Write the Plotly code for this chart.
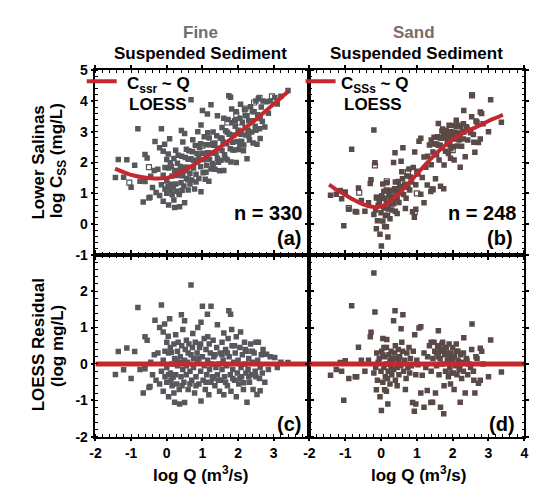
import plotly.graph_objects as go

W, H = 537, 486

# ---------------- data ----------------
# Fine suspended sediment: log Q, log Css, LOESS residual
fine_x = [-1.44, -1.36, -1.21, -1.12, -1.0, -0.9, -0.81, -0.75, -0.66, -0.61, -0.61, -0.55, -0.5, -0.47, -0.45,
          -0.4, -0.35, -0.33, -0.3, -0.25, -0.2, -0.2, -0.15, -0.15, -0.1, -0.1, -0.1, -0.06, -0.05, 0.0,
          0.0, 0.0, 0.04, 0.05, 0.05, 0.08, 0.1, 0.1, 0.13, 0.15, 0.15, 0.18, 0.2, 0.2, 0.22,
          0.22, 0.25, 0.25, 0.28, 0.3, 0.3, 0.32, 0.35, 0.36, 0.38, 0.4, 0.41, 0.42, 0.45, 0.45,
          0.48, 0.5, 0.5, 0.5, 0.52, 0.55, 0.55, 0.58, 0.6, 0.62, 0.65, 0.68, 0.68, 0.7, 0.72,
          0.73, 0.75, 0.75, 0.78, 0.8, 0.82, 0.85, 0.87, 0.87, 0.9, 0.92, 0.95, 0.96, 0.96, 1.0,
          1.0, 1.02, 1.05, 1.05, 1.08, 1.1, 1.12, 1.14, 1.15, 1.18, 1.19, 1.2, 1.22, 1.24, 1.24,
          1.26, 1.28, 1.3, 1.32, 1.35, 1.38, 1.4, 1.42, 1.42, 1.45, 1.48, 1.5, 1.52, 1.55, 1.55,
          1.58, 1.6, 1.6, 1.62, 1.65, 1.68, 1.7, 1.72, 1.74, 1.75, 1.78, 1.79, 1.8, 1.82, 1.83,
          1.85, 1.88, 1.9, 1.92, 1.95, 1.95, 1.98, 2.0, 2.02, 2.05, 2.07, 2.08, 2.1, 2.12, 2.15,
          2.16, 2.18, 2.2, 2.22, 2.25, 2.25, 2.28, 2.3, 2.32, 2.35, 2.38, 2.4, 2.42, 2.45, 2.48,
          2.5, 2.53, 2.55, 2.57, 2.6, 2.62, 2.62, 2.65, 2.68, 2.7, 2.75, 2.8, 2.85, 2.9, 3.03,
          3.1, 3.2, 3.4, 0.12, 0.28, 0.43, 0.6, 0.65, 0.82, 0.9, 1.1, 1.3, 1.45, 1.65, 1.85,
          2.05, 2.3, 2.5, 1.15, 1.7, 0.35, 0.55, 0.95, 1.35, 1.55, 1.9, 2.2, 2.4, 0.05, -0.05]
fine_css = [1.51, 2.1, 1.52, 2.09, 1.2, 1.91, 3.1, 1.39, 0.72, 1.38, 2.26, 2.15, 0.85, 0.87, 1.55,
            1.19, 1.74, 2.68, 1.03, 1.78, 2.48, 0.93, 3.1, 1.28, 2.37, 1.59, 0.74, 2.59, 1.14, 2.1,
            1.4, 1.0, 2.28, 1.82, 0.62, 2.77, 1.29, 1.99, 1.87, 0.95, 1.56, 1.21, 2.13, 0.78, 0.54,
            1.74, 1.3, 2.4, 1.07, 1.98, 1.58, 2.24, 0.96, 0.56, 1.87, 1.34, 3.04, 2.2, 1.57, 2.67,
            1.24, 1.85, 2.94, 0.69, 2.16, 1.48, 2.43, 1.85, 1.11, 2.38, 1.65, 4.04, 2.12, 1.43, 2.35,
            2.74, 1.82, 2.07, 1.14, 2.55, 1.62, 2.29, 3.0, 2.05, 1.48, 2.49, 1.86, 3.22, 1.05, 3.69,
            2.3, 1.67, 2.84, 2.09, 1.46, 2.58, 1.9, 3.58, 2.32, 1.39, 2.8, 2.11, 2.58, 3.88, 1.79,
            2.31, 1.97, 2.99, 2.56, 1.78, 2.3, 2.87, 3.52, 2.14, 2.46, 1.73, 2.8, 2.07, 3.14, 2.39,
            2.67, 1.74, 3.44, 2.25, 3.03, 2.61, 2.08, 3.4, 4.17, 2.92, 2.45, 4.12, 2.02, 3.74, 3.29,
            2.66, 2.89, 2.41, 3.18, 2.0, 3.65, 2.68, 3.05, 2.42, 3.44, 3.89, 2.92, 2.69, 3.31, 2.38,
            2.57, 3.71, 3.13, 2.89, 2.12, 3.52, 3.05, 3.36, 2.73, 3.81, 2.99, 3.36, 2.63, 3.65, 3.18,
            4.0, 2.59, 3.55, 4.07, 3.1, 3.43, 2.78, 3.8, 3.33, 4.0, 3.15, 3.97, 3.6, 4.0, 4.11,
            3.9, 4.15, 4.34, 1.09, 1.72, 1.1, 2.11, 1.3, 1.37, 2.18, 1.68, 1.94, 2.01, 2.13, 2.41,
            2.59, 2.86, 3.05, 2.97, 2.98, 1.71, 1.73, 2.61, 2.63, 2.79, 3.36, 3.53, 3.66, 1.22, 1.84]
fine_resid = [-0.29, 0.34, -0.16, 0.44, -0.4, 0.34, 1.55, -0.15, -0.8, -0.13, 0.75, 0.65, -0.65, -0.62, 0.05,
              -0.3, 0.25, 1.2, -0.45, 0.3, 1.0, -0.55, 1.62, -0.2, 0.88, 0.1, -0.75, 1.1, -0.35, 0.6,
              -0.1, -0.5, 0.76, 0.3, -0.9, 1.24, -0.25, 0.45, 0.32, -0.6, 0.0, -0.36, 0.55, -0.8, -1.05,
              0.15, -0.3, 0.8, -0.55, 0.35, -0.05, 0.6, -0.7, -1.1, 0.2, -0.35, 1.35, 0.5, -0.15, 0.95,
              -0.5, 0.1, 1.19, -1.06, 0.4, -0.3, 0.65, 0.05, -0.7, 0.55, -0.2, 2.17, 0.25, -0.45, 0.45,
              0.84, -0.1, 0.15, -0.8, 0.6, -0.35, 0.3, 1.0, 0.05, -0.55, 0.45, -0.2, 1.15, -1.02, 1.59,
              0.2, -0.45, 0.7, -0.05, -0.7, 0.4, -0.3, 1.37, 0.1, -0.85, 0.55, -0.15, 0.3, 1.59, -0.5,
              0.0, -0.35, 0.65, 0.2, -0.6, -0.1, 0.45, 1.08, -0.3, 0.0, -0.75, 0.3, -0.45, 0.6, -0.15,
              0.1, -0.85, 0.85, -0.35, 0.4, -0.05, -0.6, 0.7, 1.46, 0.2, -0.3, 1.37, -0.75, 0.95, 0.5,
              -0.15, 0.05, -0.45, 0.3, -0.9, 0.75, -0.25, 0.1, -0.55, 0.45, 0.88, -0.1, -0.35, 0.25, -0.7,
              -0.52, 0.6, 0.0, -0.25, -1.05, 0.35, -0.15, 0.15, -0.5, 0.55, -0.3, 0.05, -0.7, 0.3, -0.2,
              0.6, -0.84, 0.1, 0.6, -0.4, -0.09, -0.74, 0.25, -0.25, 0.4, -0.5, 0.27, -0.15, 0.2, 0.18,
              -0.1, 0.05, 0.04, -0.45, 0.1, -0.6, 0.3, -0.55, -0.6, 0.15, -0.5, -0.4, -0.45, -0.5, -0.4,
              -0.4, -0.35, -0.35, 0.75, 0.3, 0.05, -0.05, 0.55, 0.25, 0.25, 0.5, 0.4, 0.35, -0.3, 0.35]
fine_open_x = [-1.05, -0.5, 0.05, 0.35, 0.6, 1.0, 1.3, 1.7, 1.95, 2.05, 2.2, 2.45, 2.6, 2.95]
fine_open_css = [1.35, 1.85, 1.2, 1.05, 1.45, 2.55, 2.6, 3.3, 3.55, 3.3, 3.75, 3.95, 4.1, 4.15]
fine_loess_x = [-1.45, -1.2, -1.0, -0.75, -0.5, -0.25, 0.0, 0.25, 0.5, 0.75, 1.0, 1.25, 1.5,
                1.75, 2.0, 2.25, 2.5, 2.75, 3.0, 3.25, 3.4]
fine_loess_y = [1.80, 1.68, 1.60, 1.54, 1.50, 1.48, 1.50, 1.60, 1.75, 1.92, 2.10, 2.30, 2.50,
                2.72, 2.95, 3.17, 3.40, 3.65, 3.90, 4.15, 4.30]

# Sand suspended sediment
sand_x = [-1.41, -1.25, -1.14, -1.0, -1.04, -1.1, -0.82, -0.9, -0.72, -0.68, -0.63, -0.55, -0.45, -0.35, -0.3,
          -0.28, -0.2, -0.17, -0.13, -0.12, -0.2, -0.1, -0.05, -0.03, 0.01, 0.0, 0.02, 0.05, 0.05, 0.08,
          0.1, 0.1, 0.12, 0.15, 0.15, 0.16, 0.19, 0.2, 0.22, 0.25, 0.25, 0.28, 0.3, 0.32, 0.35,
          0.35, 0.38, 0.39, 0.4, 0.42, 0.45, 0.48, 0.5, 0.52, 0.55, 0.56, 0.6, 0.61, 0.63, 0.66,
          0.7, 0.72, 0.75, 0.78, 0.8, 0.82, 0.85, 0.88, 0.9, 0.93, 0.94, 0.97, 0.97, 1.0, 1.03,
          1.06, 1.11, 1.11, 1.15, 1.2, 1.2, 1.25, 1.29, 1.3, 1.35, 1.39, 1.4, 1.44, 1.45, 1.5,
          1.52, 1.55, 1.58, 1.6, 1.6, 1.62, 1.66, 1.68, 1.7, 1.72, 1.75, 1.76, 1.78, 1.8, 1.82,
          1.85, 1.88, 1.9, 1.92, 1.94, 1.95, 1.98, 2.0, 2.02, 2.04, 2.05, 2.08, 2.1, 2.12, 2.15,
          2.18, 2.21, 2.22, 2.25, 2.28, 2.3, 2.31, 2.35, 2.38, 2.42, 2.45, 2.5, 2.53, 2.54, 2.58,
          2.59, 2.62, 2.65, 2.68, 2.72, 2.77, 2.77, 2.81, 2.85, 3.0, 3.06, 3.36, -0.08, 0.05, 0.18,
          0.28, 0.4, 0.45, 0.58, 0.68, 0.15, -0.15, 1.48, 1.55, 1.65, 1.75, 1.85, 1.95, 2.0, 2.1,
          2.2, 2.3, 2.4, 1.7, 1.4, 1.6, 1.9, 2.15, 0.3, 0.5, 0.08]
sand_css = [0.94, 0.97, 1.09, 1.04, -0.05, 0.82, 2.43, 0.48, 0.41, 0.39, 1.17, 0.77, 0.42, 0.69, 1.32,
            1.44, 3.06, 1.99, -0.15, 0.86, 0.31, 0.11, 0.72, -0.33, -0.71, 0.37, 0.92, 0.1, 1.3, 0.52,
            -0.08, 0.83, 0.29, 1.11, 0.66, 1.34, -0.42, 0.49, 0.95, 0.17, 0.82, 1.1, 0.46, 0.83, 2.0,
            0.66, 1.15, 2.32, 0.42, 1.05, 0.84, 1.38, 0.7, 1.22, 1.01, 2.04, 1.47, 2.48, 0.96, 1.29,
            0.84, 1.56, 1.2, 1.79, 1.11, 1.53, 1.37, 0.4, 1.84, 0.22, 2.34, 0.48, 1.28, 1.72, 1.63,
            2.69, 2.79, 0.97, 1.51, 0.69, 2.18, 1.85, 1.27, 2.2, 2.57, 1.06, 1.93, 1.13, 2.34, 2.6,
            1.47, 2.25, 2.84, 3.27, 2.56, 2.08, 1.23, 2.79, 2.47, 3.09, 1.15, 1.92, 2.8, 2.37, 3.04,
            2.71, 2.29, 3.21, 2.58, 2.14, 3.0, 2.78, 3.2, 2.51, 2.08, 2.98, 2.76, 3.17, 2.54, 2.96,
            2.73, 1.85, 3.16, 2.53, 3.0, 2.76, 3.69, 2.19, 3.16, 2.73, 3.05, 2.97, 3.49, 4.19, 2.91,
            2.66, 2.33, 3.35, 3.31, 2.65, 2.76, 3.64, 3.59, 3.26, 3.0, 4.04, 3.31, 0.61, 0.85, 0.28,
            0.65, 1.37, 0.34, 1.7, 0.51, -0.09, 0.46, 2.82, 2.6, 2.56, 2.92, 2.91, 2.45, 2.9, 3.37,
            2.85, 3.26, 3.12, 3.02, 2.73, 2.81, 2.86, 3.21, 0.91, 1.1, 1.07]
sand_resid = [-0.31, -0.15, 0.04, 0.09, -1.0, -0.2, 1.6, -0.4, -0.35, -0.35, 0.46, 0.1, -0.2, 0.1, 0.75,
              0.87, 2.5, 1.43, -0.71, 0.3, -0.25, -0.45, 0.15, -0.9, -1.28, -0.2, 0.35, -0.5, 0.7, -0.1,
              -0.71, 0.2, -0.35, 0.45, 0.0, 0.67, -1.1, -0.2, 0.25, -0.55, 0.1, 0.35, -0.3, 0.05, 1.19,
              -0.15, 0.3, 1.46, -0.45, 0.15, -0.1, 0.4, -0.3, 0.2, -0.05, 0.97, 0.35, 1.35, -0.2, 0.1,
              -0.4, 0.3, -0.1, 0.45, -0.25, 0.15, -0.05, -1.06, 0.35, -1.3, 0.8, -1.1, -0.3, 0.1, -0.02,
              0.99, 1.02, -0.8, -0.31, -1.19, 0.3, -0.1, -0.73, 0.2, 0.5, -1.06, -0.2, -1.05, 0.15, 0.35,
              -0.8, -0.05, 0.5, 0.91, 0.2, -0.3, -1.19, 0.35, 0.0, 0.6, -1.37, -0.6, 0.25, -0.2, 0.45,
              0.1, -0.35, 0.55, -0.1, -0.55, 0.3, 0.05, 0.45, -0.25, -0.7, 0.2, -0.05, 0.35, -0.3, 0.1,
              -0.15, -1.05, 0.25, -0.4, 0.05, -0.2, 0.72, -0.8, 0.15, -0.3, 0.0, -0.1, 0.4, 1.1, -0.2,
              -0.45, -0.8, 0.2, 0.15, -0.53, -0.45, 0.43, 0.35, 0.0, -0.35, 0.66, -0.22, 0.05, 0.25, -0.4,
              -0.1, 0.5, -0.6, 0.6, -0.7, -0.75, -0.1, 0.6, 0.3, 0.15, 0.4, 0.3, -0.25, 0.15, 0.55,
              -0.05, 0.3, 0.1, 0.55, 0.6, 0.45, 0.2, 0.35, 0.15, 0.1, 0.45]
sand_open_x = [2.54, -0.17, 0.16, -0.61, -0.9, 1.44, -0.12, 1.0, 0.94, 2.0, 2.3, 0.75]
sand_open_css = [4.18, 1.91, 1.39, 1.02, 0.52, 1.13, 0.86, 1.0, 0.39, 2.4, 3.0, 1.7]
sand_loess_x = [-1.45, -1.25, -1.0, -0.75, -0.5, -0.25, 0.0, 0.25, 0.5, 0.75, 1.0, 1.25, 1.5,
                1.75, 2.0, 2.25, 2.5, 2.75, 3.0, 3.25, 3.4]
sand_loess_y = [1.28, 1.12, 0.95, 0.78, 0.64, 0.56, 0.57, 0.72, 1.00, 1.30, 1.62, 1.95, 2.25,
                2.52, 2.75, 2.93, 3.07, 3.20, 3.35, 3.47, 3.55]

zero_x = [-2, 4]
zero_y = [0, 0]

x_ticks_left = [-2, -1, 0, 1, 2, 3]
x_ticks_right = [-2, -1, 0, 1, 2, 3, 4]
y_ticks_top = [-1, 0, 1, 2, 3, 4, 5]
y_ticks_bottom = [-2, -1, 0, 1, 2]

# ---------------- styling ----------------
FONT = "Liberation Sans"
FINE_C = "#56585b"
SAND_C = "#5a4a47"
RED = "#c4272d"

def px(x):
    return x / W

def py(y):
    return 1 - y / H

XL = [px(83), px(301)]
XR = [px(301), px(520)]
YT = [py(247), py(56)]
YB = [py(435), py(247)]

fig = go.Figure()

def scatter(x, y, xa, ya, color, open_=False):
    fig.add_trace(go.Scatter(
        x=x, y=y, xaxis=xa, yaxis=ya, mode="markers", showlegend=False,
        marker=dict(symbol="square-open" if open_ else "square", size=5.5 if not open_ else 5,
                    color=color, line=dict(width=1.2 if open_ else 0, color=color)),
        hoverinfo="skip"))

# top panels
scatter(fine_x, fine_css, "x", "y", FINE_C)
scatter(fine_open_x, fine_open_css, "x", "y", FINE_C, True)
scatter(sand_x, sand_css, "x2", "y2", SAND_C)
scatter(sand_open_x, sand_open_css, "x2", "y2", SAND_C, True)

fig.add_trace(go.Scatter(x=fine_loess_x, y=fine_loess_y, xaxis="x", yaxis="y", mode="lines",
                         line=dict(color=RED, width=4, shape="spline"),
                         name=" ", legend="legend", showlegend=True))
fig.add_trace(go.Scatter(x=sand_loess_x, y=sand_loess_y, xaxis="x2", yaxis="y2", mode="lines",
                         line=dict(color=RED, width=4, shape="spline"),
                         name=" ", legend="legend2", showlegend=True))

# bottom panels
scatter(fine_x, fine_resid, "x3", "y3", FINE_C)
scatter(sand_x, sand_resid, "x4", "y4", SAND_C)
for xa, ya in (("x3", "y3"), ("x4", "y4")):
    fig.add_trace(go.Scatter(x=zero_x, y=zero_y, xaxis=xa, yaxis=ya, mode="lines",
                             line=dict(color=RED, width=5), showlegend=False, hoverinfo="skip"))

tickfont = dict(family=FONT, size=14, color="black")
minor = dict(ticks="inside", ticklen=3, tickwidth=1.2, tickcolor="black", dtick=0.2, tick0=0, showgrid=False)

def axis(domain, anchor, tickvals, rng, showlabels, side=None):
    d = dict(domain=domain, anchor=anchor, range=rng, showline=True, linecolor="black", linewidth=1.5,
             mirror="ticks", ticks="outside", ticklen=3, tickwidth=1.5, tickcolor="black",
             tickmode="array", tickvals=tickvals, ticktext=["<b>%g</b>" % v for v in tickvals],
             showticklabels=showlabels, showgrid=False,
             zeroline=False, minor=minor, tickfont=tickfont, ticklabelstandoff=0)
    if side:
        d["side"] = side
    return d

legfont = dict(family=FONT, size=14, color="black")
fig.update_layout(
    width=W, height=H, margin=dict(l=0, r=0, t=0, b=0),
    paper_bgcolor="white", plot_bgcolor="white",
    xaxis=axis(XL, "y", x_ticks_left, [-2, 4], False),
    yaxis=axis(YT, "x", y_ticks_top, [-1, 5], True),
    xaxis2=axis(XR, "y2", x_ticks_right, [-2, 4], False),
    yaxis2=axis(YT, "x2", y_ticks_top, [-1, 5], True, "right"),
    xaxis3=axis(XL, "y3", x_ticks_left, [-2, 4], True),
    yaxis3=axis(YB, "x3", y_ticks_bottom, [-2, 3], True),
    xaxis4=axis(XR, "y4", x_ticks_right, [-2, 4], True),
    yaxis4=axis(YB, "x4", y_ticks_bottom, [-2, 3], True, "right"),
    legend=dict(x=px(69), y=py(68), xanchor="left", yanchor="middle", bgcolor="rgba(0,0,0,0)",
                font=legfont, itemwidth=30),
    legend2=dict(x=px(292), y=py(68), xanchor="left", yanchor="middle", bgcolor="rgba(0,0,0,0)",
                 font=legfont, itemwidth=30),
)

def ann(text, x, y, size=17, color="black", angle=0, xanchor="center"):
    fig.add_annotation(text="<b>%s</b>" % text, x=px(x), y=py(y), xref="paper", yref="paper",
                       showarrow=False, textangle=angle, xanchor=xanchor, yanchor="middle",
                       font=dict(family=FONT, size=size, color=color))

ann("Fine", 190, 17, color="#6e6e74")
ann("Suspended Sediment", 190, 39)
ann("Sand", 408, 17, color="#7e6b68")
ann("Suspended Sediment", 410, 39)
ann("Lower Salinas", 25, 152, angle=-90)
ann("log C<sub>SS</sub> (mg/L)", 45, 150, angle=-90)
ann("LOESS Residual", 25, 340, angle=-90)
ann("(log mg/L)", 45, 341, angle=-90)
ann("log Q (m<sup>3</sup>/s)", 190, 474)
ann("log Q (m<sup>3</sup>/s)", 412, 474)
ann("C<sub>ssr</sub> ~ Q", 113, 71, xanchor="left")
ann("LOESS", 115, 91, xanchor="left")
ann("C<sub>SSs</sub> ~ Q", 331, 71, xanchor="left")
ann("LOESS", 334, 91, xanchor="left")
ann("n = 330", 296, 204, size=20, xanchor="right")
ann("(a)", 294, 230, size=20, xanchor="right")
ann("n = 248", 514, 204, size=20, xanchor="right")
ann("(b)", 511, 230, size=20, xanchor="right")
ann("(c)", 294, 422, size=20, xanchor="right")
ann("(d)", 513, 422, size=20, xanchor="right")

fig.write_html("out.html")
